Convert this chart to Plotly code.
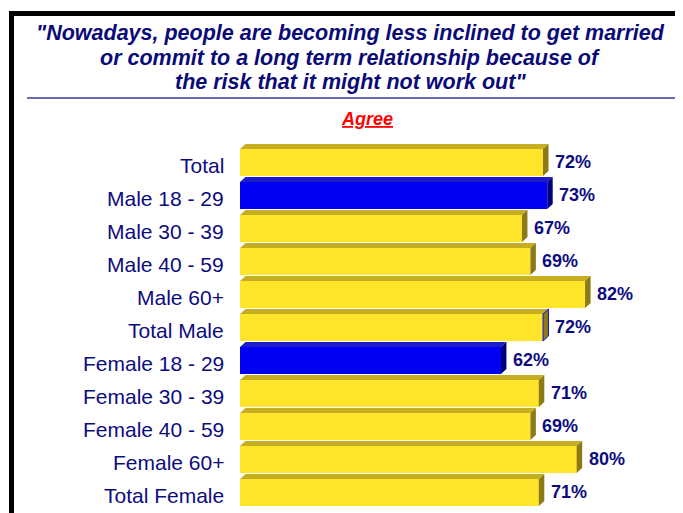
import plotly.graph_objects as go

categories = ["Total", "Male 18 - 29", "Male 30 - 39", "Male 40 - 59", "Male 60+",
              "Total Male", "Female 18 - 29", "Female 30 - 39", "Female 40 - 59",
              "Female 60+", "Total Female"]
values = [72, 73, 67, 69, 82, 72, 62, 71, 69, 80, 71]
highlight = [False, True, False, False, False, False, True, False, False, False, False]
value_labels = [f"{v}%" for v in values]

title_lines = ['"Nowadays, people are becoming less inclined to get married',
               'or commit to a long term relationship because of',
               'the risk that it might not work out"']
subtitle = "Agree"

OFF = 8  # page body margin offset
W, H = 683, 513
L, R, T, B = 240 - OFF, 30, 140 - OFF, 0
PW, PH = W - L - R, H - T - B
PX_PER_UNIT = 303.0 / 72.0
XMAX = PW / PX_PER_UNIT
ROW = 33.0
FIRST_CENTER = 162.5 - OFF
y_top_val = -(FIRST_CENTER - T) / ROW
y_bot_val = (H - B - FIRST_CENTER) / ROW

def px_x(px):
    return (px - OFF - L) / PW

def px_y(py):
    return (H - B - (py - OFF)) / PH

idx = list(range(len(categories)))
YELLOW, YELLOW_TOP, YELLOW_SIDE = "#FFE52A", "#C6AE22", "#8C7A14"
BLUE, BLUE_TOP, BLUE_SIDE = "#0000F2", "#1C1CC8", "#00007C"
front_colors = [BLUE if h else YELLOW for h in highlight]

fig = go.Figure()
fig.add_trace(go.Bar(y=idx, x=values, orientation="h", width=27 / ROW,
                     marker=dict(color=front_colors, line=dict(width=0)),
                     hoverinfo="skip"))

dx = 5.5 / PX_PER_UNIT
dy = 5.0 / ROW
half = (27 / ROW) / 2
shapes = []
for i, (v, h) in enumerate(zip(values, highlight)):
    top = i - half
    bot = i + half
    tc = BLUE_TOP if h else YELLOW_TOP
    sc = BLUE_SIDE if h else YELLOW_SIDE
    shapes.append(dict(type="path", xref="x", yref="y",
                       path=f"M 0,{top} L {v},{top} L {v+dx},{top-dy} L {dx},{top-dy} Z",
                       fillcolor=tc, line=dict(width=0), layer="above"))
    sline = dict(width=1, color="#1010F0") if categories[i] == "Total Male" else dict(width=0)
    shapes.append(dict(type="path", xref="x", yref="y",
                       path=f"M {v},{top} L {v},{bot} L {v+dx},{bot-dy} L {v+dx},{top-dy} Z",
                       fillcolor=sc, line=sline, layer="above"))

# frame and rule
shapes.append(dict(type="line", xref="paper", yref="paper", x0=px_x(11.5), x1=px_x(11.5),
                   y0=px_y(11), y1=px_y(530), line=dict(color="black", width=5)))
shapes.append(dict(type="line", xref="paper", yref="paper", x0=px_x(9), x1=px_x(700),
                   y0=px_y(13.5), y1=px_y(13.5), line=dict(color="black", width=5)))
shapes.append(dict(type="line", xref="paper", yref="paper", x0=px_x(27), x1=px_x(678),
                   y0=px_y(98), y1=px_y(98), line=dict(color="#3a3a9a", width=1.5)))

annotations = []
NAVY = "#0c0c80"
for i, (cat, v, lab) in enumerate(zip(categories, values, value_labels)):
    annotations.append(dict(x=v, y=i, xref="x", yref="y", text=f"<b>{lab}</b>",
                            showarrow=False, xanchor="left", yanchor="middle",
                            xshift=10, yshift=1,
                            font=dict(family="Liberation Sans, Arial", size=18, color=NAVY)))
    annotations.append(dict(x=px_x(226), y=i, xref="paper", yref="y", text=cat,
                            showarrow=False, xanchor="right", yanchor="middle",
                            yshift=-3,
                            font=dict(family="Liberation Sans, Arial", size=21, color=NAVY)))
for k, (line, py) in enumerate(zip(title_lines, [33, 58, 82])):
    annotations.append(dict(x=px_x(350), y=px_y(py), xref="paper", yref="paper",
                            text=f"<b><i>{line}</i></b>", showarrow=False,
                            xanchor="center", yanchor="middle",
                            font=dict(family="Liberation Sans, Arial", size=21.5, color="#0a0a78")))
annotations.append(dict(x=px_x(367), y=px_y(119), xref="paper", yref="paper",
                        text=f"<b><i><u>{subtitle}</u></i></b>", showarrow=False,
                        xanchor="center", yanchor="middle",
                        font=dict(family="Liberation Sans, Arial", size=18, color="#FF0000")))

fig.update_layout(
    width=W, height=H, margin=dict(l=L, r=R, t=T, b=B),
    paper_bgcolor="white", plot_bgcolor="white", showlegend=False,
    shapes=shapes, annotations=annotations,
    xaxis=dict(range=[0, XMAX], visible=False, fixedrange=True),
    yaxis=dict(range=[y_bot_val, y_top_val], visible=False, fixedrange=True),
    bargap=0,
)

fig.write_html("out.html")
